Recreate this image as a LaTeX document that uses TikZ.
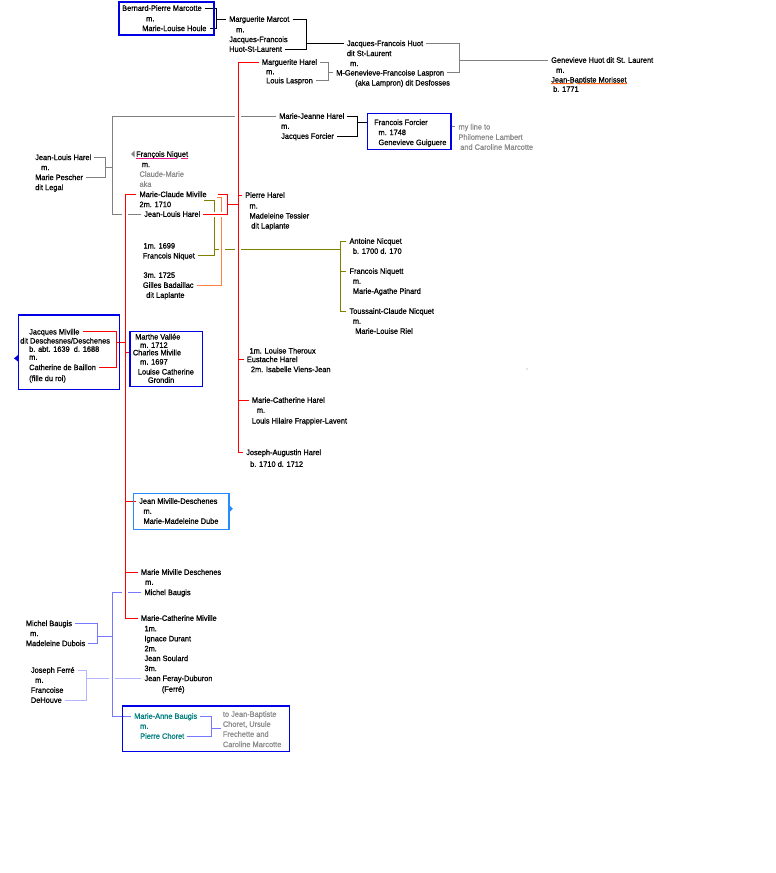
\documentclass[tikz,border=0pt]{standalone}
\usepackage{fontspec}
\setmainfont{Liberation Sans}[FakeStretch=0.95,FakeBold=0.8]
\usetikzlibrary{calc}
\definecolor{bxblue}{RGB}{0,0,230}
\definecolor{ltblue}{RGB}{40,140,255}
\definecolor{red0}{RGB}{255,0,0}
\definecolor{olive0}{RGB}{128,128,0}
\definecolor{orange0}{RGB}{255,128,64}
\definecolor{lngray}{RGB}{128,128,128}
\definecolor{txtgray}{RGB}{140,140,140}
\definecolor{purp0}{RGB}{120,120,255}
\definecolor{lav0}{RGB}{180,180,255}
\definecolor{teal0}{RGB}{0,128,128}
\definecolor{pink0}{RGB}{230,20,140}
\definecolor{ulor}{RGB}{255,100,20}
\tikzset{
 tx/.style={anchor=west, inner xsep=3pt, inner ysep=0pt, xshift=-3pt, text height=5.6pt, text depth=0pt, font=\fontsize{7.8}{9}\selectfont},
 tg/.style={tx, text=txtgray},
 tt/.style={tx, text=teal0},
 bxn/.style={anchor=north west, inner sep=0pt, outer sep=0pt},
 bxs/.style={draw=bxblue, line width=1.3pt},
 con/.style={line width=1pt},
 blk/.style={con, draw=black},
 gry/.style={con, draw=lngray},
 rd/.style={con, draw=red0},
 olv/.style={con, draw=olive0},
 orn/.style={con, draw=orange0},
 pur/.style={con, draw=purp0},
 lav/.style={con, draw=lav0},
 halo/.style={preaction={draw=white, line width=6pt}},
}
\begin{document}
\begin{tikzpicture}[x=1pt,y=-1pt]
\fill[white] (0,0) rectangle (776,873);
\useasboundingbox (0,0) rectangle (776,873);
% boxes (names only; drawn at the end)
\node[bxn, minimum width=95pt, minimum height=33pt] (boxa) at (119,2) {};
\node[bxn, minimum width=83.3pt, minimum height=36pt] (boxb) at (367.7,113.3) {};
\node[bxn, minimum width=101pt, minimum height=74.3pt] (boxc) at (18.3,315) {};
\node[bxn, minimum width=72.7pt, minimum height=55pt] (boxd) at (130,331.7) {};
\node[bxn, minimum width=95.7pt, minimum height=36pt] (boxe) at (133.3,493.3) {};
\node[bxn, minimum width=167pt, minimum height=45.7pt] (boxf) at (122.3,706) {};
% texts
\node[tx] (bp) at (122,8) {Bernard-Pierre Marcotte};
\node[tx] (bpm) at (146,18.5) {m.};
\node[tx] (mlh) at (142,28.3) {Marie-Louise Houle};
\node[tx] (mm) at (229,19) {Marguerite Marcot};
\node[tx] (mmm) at (236,29.5) {m.};
\node[tx] (jf1) at (229,39.3) {Jacques-Francois};
\node[tx] (hsl) at (229,49) {Huot-St-Laurent};
\node[tx] (jfh) at (346.7,43.3) {Jacques-Francois Huot};
\node[tx] (dsl) at (346.7,53.3) {dit St-Laurent};
\node[tx] (jfhm) at (350,63.3) {m.};
\node[tx] (mgl) at (336,72.7) {M-Genevieve-Francoise Laspron};
\node[tx] (aka1) at (355,82.7) {(aka Lampron) dit Desfosses};
\node[tx] (ghs) at (551,60) {Genevieve Huot dit St. Laurent};
\node[tx] (ghsm) at (556,70) {m.};
\node[tx] (jbm) at (551,79.7) {Jean-Baptiste Morisset};
\node[tx] (b1771) at (553,89) {b. 1771};
\node[tx] (mh) at (261.7,62) {Marguerite Harel};
\node[tx] (mhm) at (266,71.5) {m.};
\node[tx] (ll) at (266,80.5) {Louis Laspron};
\node[tx] (mjh) at (279,116) {Marie-Jeanne Harel};
\node[tx] (mjhm) at (281,126) {m.};
\node[tx] (jfo) at (281,136) {Jacques Forcier};
\node[tx] (ff) at (374,122.3) {Francois Forcier};
\node[tx] (ffm) at (378.3,132.3) {m. 1748};
\node[tx] (gg) at (378.3,142.3) {Genevieve Guiguere};
\node[tg] (ml1) at (458.3,126.7) {my line to};
\node[tg] (ml2) at (458.3,137) {Philomene Lambert};
\node[tg] (ml3) at (460,147) {and Caroline Marcotte};
\node[tx] (jlh) at (35,157.3) {Jean-Louis Harel};
\node[tx] (jlhm) at (41,167.3) {m.};
\node[tx] (mp) at (35,177.3) {Marie Pescher};
\node[tx] (dl) at (35,187.3) {dit Legal};
\node[tx] (fn) at (136,154) {François Niquet};
\node[tx] (fnm) at (141.7,164.3) {m.};
\node[tg] (cm) at (139.3,174) {Claude-Marie};
\node[tg] (aka2) at (139.3,184) {aka};
\node[tx] (mcm) at (139.3,194.3) {Marie-Claude Miville};
\node[tx] (m2) at (139.3,204.3) {2m. 1710};
\node[tx] (jlh2) at (144,214) {Jean-Louis Harel};
\node[tx] (ph) at (245,195) {Pierre Harel};
\node[tx] (phm) at (249.3,205.7) {m.};
\node[tx] (mt) at (249.3,215.7) {Madeleine Tessier};
\node[tx] (dlp) at (251,225.7) {dit Laplante};
\node[tx] (m1) at (143.3,245.7) {1m. 1699};
\node[tx] (fn2) at (142.7,255.7) {Francois Niquet};
\node[tx] (m3) at (143.3,275) {3m. 1725};
\node[tx] (gb) at (142.7,285) {Gilles Badaillac};
\node[tx] (dlp2) at (146,295) {dit Laplante};
\node[tx] (an) at (349.3,241) {Antoine Nicquet};
\node[tx] (anb) at (352.7,251) {b. 1700 d. 170};
\node[tx] (fnq) at (349.3,271) {Francois Niquett};
\node[tx] (fnqm) at (352.7,281) {m.};
\node[tx] (map) at (352.7,291) {Marie-Agathe Pinard};
\node[tx] (tcn) at (349.3,311) {Toussaint-Claude Nicquet};
\node[tx] (tcnm) at (352.7,321) {m.};
\node[tx] (mlr) at (355,331) {Marie-Louise Riel};
\node[tx] (jm) at (29,331.7) {Jacques Miville};
\node[tx] (dds) at (20,340.7) {dit Deschesnes/Deschenes};
\node[tx] (bab) at (29,349) {b. abt. 1639\ \ d. 1688};
\node[tx] (jmm) at (29,357) {m.};
\node[tx] (cb) at (29,367.3) {Catherine de Baillon};
\node[tx] (fdr) at (29,378.3) {(fille du roi)};
\node[tx] (mv) at (135,336.7) {Marthe Vallée};
\node[tx] (mv2) at (140,345) {m. 1712};
\node[tx] (chm) at (132.7,352.5) {Charles Miville};
\node[tx] (chm2) at (140,361.7) {m. 1697};
\node[tx] (lc) at (137.7,371.7) {Louise Catherine};
\node[tx] (gr) at (147.7,380) {Grondin};
\node[tx] (lt) at (249.3,350.7) {1m. Louise Theroux};
\node[tx] (eh) at (246.7,359.3) {Eustache Harel};
\node[tx] (ivj) at (250.7,369.3) {2m. Isabelle Viens-Jean};
\node[tx] (mch) at (251.7,400) {Marie-Catherine Harel};
\node[tx] (mchm) at (256.7,410) {m.};
\node[tx] (lhf) at (251.7,420.7) {Louis Hilaire Frappier-Lavent};
\node[tx] (ja) at (246,452.3) {Joseph-Augustin Harel};
\node[tx] (jab) at (250,464) {b. 1710 d. 1712};
\node[tx] (jmd) at (139,501) {Jean Miville-Deschenes};
\node[tx] (jmdm) at (143.3,511) {m.};
\node[tx] (mmdb) at (143.3,521) {Marie-Madeleine Dube};
\node[tx] (mmd) at (140.7,572) {Marie Miville Deschenes};
\node[tx] (mmdm) at (145,582) {m.};
\node[tx] (mbg2) at (144.3,592.3) {Michel Baugis};
\node[tx] (mcv) at (140.7,618) {Marie-Catherine Miville};
\node[tx] (x1m) at (144.3,628.5) {1m.};
\node[tx] (idu) at (144.3,638.5) {Ignace Durant};
\node[tx] (x2m) at (144.3,648.5) {2m.};
\node[tx] (jso) at (144.3,658.3) {Jean Soulard};
\node[tx] (x3m) at (144.3,668.3) {3m.};
\node[tx] (jfd) at (144.3,678.3) {Jean Feray-Duburon};
\node[tx] (fer) at (161.7,689) {(Ferré)};
\node[tx] (mb) at (25.7,623.3) {Michel Baugis};
\node[tx] (mbm) at (30,633.3) {m.};
\node[tx] (md) at (25.7,643.3) {Madeleine Dubois};
\node[tx] (jfe) at (30.7,670) {Joseph Ferré};
\node[tx] (jfem) at (35,680) {m.};
\node[tx] (fr) at (30.7,690) {Francoise};
\node[tx] (dh) at (30.7,700) {DeHouve};
\node[tt] (mab) at (134,716) {Marie-Anne Baugis};
\node[tt] (mabm) at (140,726) {m.};
\node[tt] (pc) at (140,736) {Pierre Choret};
\node[tg] (tj1) at (222.7,714) {to Jean-Baptiste};
\node[tg] (tj2) at (222.7,724) {Choret, Ursule};
\node[tg] (tj3) at (222.7,734) {Frechette and};
\node[tg] (tj4) at (222.7,744.3) {Caroline Marcotte};
% coordinates
\coordinate (k1) at (216,19);
\coordinate (k2) at (306.7,43.3);
\coordinate (k3) at (459,60);
\coordinate (k4) at (328,72.7);
\coordinate (k5) at (105,167.3);
\coordinate (g1) at (112.3,0);
\coordinate (k6) at (357.3,122.3);
\coordinate (s1) at (238.3,0);
\coordinate (s2) at (125,0);
\coordinate (r1) at (218,194.3);
\coordinate (r2) at (227.3,204);
\coordinate (ol1) at (204,200);
\coordinate (ol2) at (214.3,249);
\coordinate (or1) at (217,197.3);
\coordinate (orx) at (221.7,0);
\coordinate (on) at (340,0);
\coordinate (k7) at (116,342.3);
\coordinate (k8) at (97.3,636.7);
\coordinate (k9) at (86.7,678.3);
\coordinate (k10) at (211.7,728.3);
\coordinate (k10e) at (220.7,728.3);
% black brackets
\draw[blk] (bp.east) -- (bp.east -| k1) -- (mlh.east -| k1) -- (mlh.east);
\draw[blk] (k1) -- (k1 -| mm.west);
\draw[blk] (mm.east) -- (mm.east -| k2) -- (hsl.east -| k2) -- (hsl.east);
\draw[blk] (k2) -- (k2 -| jfh.west);
\draw[blk] (mjh.east) -- (mjh.east -| k6) -- (jfo.east -| k6) -- (jfo.east);
\draw[blk] (k6) -- (k6 -| boxb.west);
% gray
\draw[gry] (jfh.east) -- (jfh.east -| k3) -- (mgl.east -| k3) -- (mgl.east);
\draw[gry] (k3) -- (k3 -| ghs.west);
\draw[gry] (mh.east) -- (mh.east -| k4) -- (ll.east -| k4) -- (ll.east);
\draw[gry] (k4) -- (k4 -| mgl.west);
\draw[gry] (jlh.east) -- (jlh.east -| k5) -- (mp.east -| k5) -- (mp.east);
\draw[gry] (k5) -- (k5 -| g1);
\draw[gry] (mjh.west) -- (mjh.west -| g1) -- (jlh2.west -| g1) -- (jlh2.west);
\draw[gry] (boxb.east |- ml1.west) -- (ml1.west);
% olive
\draw[olv] (ol1) -- (ol1 -| ol2) -- (fn2.east -| ol2) -- (fn2.east);
\draw[olv] (ol2) -- (ol2 -| on);
\draw[olv] (an.west) -- (an.west -| on) -- (tcn.west -| on) -- (tcn.west);
\draw[olv] (fnq.west -| on) -- (fnq.west);
% orange
\draw[orn, halo] (or1) -- (or1 -| orx) -- (gb.east -| orx) -- (gb.east);
% red bracket of Pierre Harel's parents
\draw[white, line width=5pt] (jlh2.east) -- (jlh2.east -| r2);
\draw[rd] (r1) -- (r1 -| r2) -- (jlh2.east -| r2) -- (jlh2.east);
% lavender and purple
\draw[lav] (jfe.east) -- (jfe.east -| k9) -- (dh.east -| k9) -- (dh.east);
\draw[lav] (k9) -- (k9 -| jfd.west);
\draw[pur, halo] (mbg2.west) -- (mbg2.west -| g1) -- (mab.west -| g1) -- (mab.west);
\draw[pur] (mb.east) -- (mb.east -| k8) -- (md.east -| k8) -- (md.east);
\draw[pur] (k8) -- (k8 -| g1);
\draw[pur] (mab.east) -- (mab.east -| k10) -- (pc.east -| k10) -- (pc.east);
\draw[pur] (k10) -- (k10e);
% red spines
\draw[rd, halo] (mh.west) -- (mh.west -| s1) -- (ja.west -| s1) -- (ja.west);
\draw[rd, halo] (mcm.west) -- (mcm.west -| s2) -- (mcv.west -| s2) -- (mcv.west);
% red branches
\draw[rd] (r2) -- (r2 -| s1);
\draw[rd] (ph.west -| s1) -- (ph.west);
\draw[rd] (eh.west -| s1) -- (eh.west);
\draw[rd] (mch.west -| s1) -- (mch.west);
\draw[rd] (jm.east) -- (jm.east -| k7) -- (cb.east -| k7) -- (cb.east);
\draw[rd] (k7) -- (k7 -| s2);
\draw[rd] (chm.west -| s2) -- (chm.west);
\draw[rd] (jmd.west -| s2) -- (jmd.west);
\draw[rd] (mmd.west -| s2) -- (mmd.west);
% boxes
\draw[bxs] (boxa.north west) rectangle (boxa.south east);
\draw[bxs] (boxb.north west) rectangle (boxb.south east);
\draw[bxs] (boxc.north west) rectangle (boxc.south east);
\draw[bxs] (boxd.north west) rectangle (boxd.south east);
\draw[bxs, draw=ltblue] (boxe.north west) rectangle (boxe.south east);
\draw[bxs] (boxf.north west) rectangle (boxf.south east);
% underlines
\draw[pink0, line width=1.2pt] ($(fn.west)+(3,4.3)$) -- ($(fn.west)!0.76!(fn.east)+(0,4.3)$);
\draw[pink0, line width=1.2pt] ($(fn.west)!0.83!(fn.east)+(0,4.3)$) -- ($(fn.east)+(-3,4.3)$);
\draw[ulor, line width=1pt] ($(jbm.west)+(3,4)$) -- ($(jbm.west)!0.31!(jbm.east)+(0,4)$);
\draw[ulor, line width=1pt] ($(jbm.west)!0.35!(jbm.east)+(0,4)$) -- ($(jbm.east)+(-3,4)$);
% small markers
\fill[lngray] (131,154) -- (134.5,150.8) -- (134.5,157.2) -- cycle;
\fill[bxblue] (14,358.3) -- (18.3,354.8) -- (18.3,361.8) -- cycle;
\fill[ltblue] (232.9,508.7) -- (229.7,505.5) -- (229.7,511.9) -- cycle;
\fill[txtgray] (527,369) circle (0.6);
\end{tikzpicture}
\end{document}
